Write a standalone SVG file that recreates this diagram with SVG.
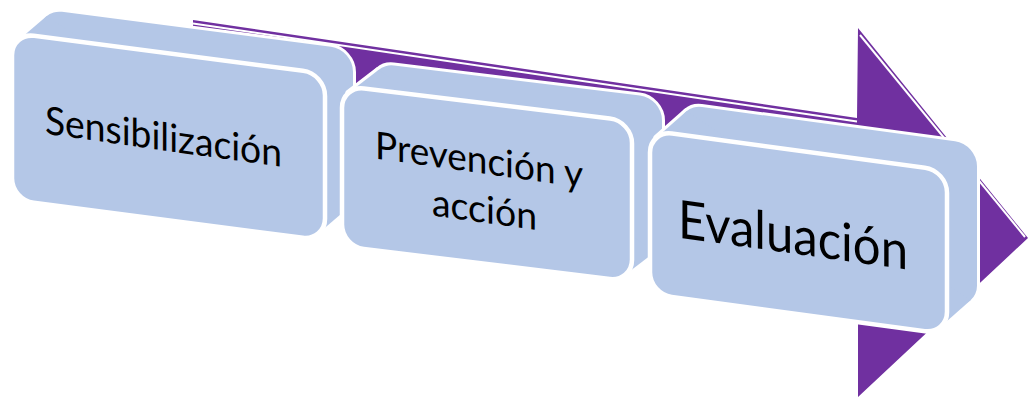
<svg xmlns="http://www.w3.org/2000/svg" width="1029" height="397" viewBox="0 0 1029 397">
<style>
.arrow { fill:#7030A0; }
.edge { stroke:#FFFFFF; stroke-width:2; fill:none; }
.ext { fill:#B4C7E7; stroke:#FFFFFF; stroke-width:6; stroke-linejoin:round; }
.extfill { fill:#B4C7E7; }
.front { fill:#B4C7E7; stroke:#FFFFFF; stroke-width:4.5; }
.lbl { font-family:Lato, 'Liberation Sans', sans-serif; fill:#000000; text-anchor:middle; }
</style>
<rect width="1029" height="397" fill="#FFFFFF"/>
<g id="connectors">
  <g id="arrow">
    <path class="arrow" d="M193,20 L857,118 L858,28 L1028,238 L858,397 L858,300 L193,150 Z"/>
    <path class="edge" d="M193,23.5 L857,121.5"/>
    <path class="edge" d="M860,35 L1025,237"/>
  </g>
</g>
<g id="node-sensibilizacion">
  <g transform="skewY(7.407)">
    <rect class="ext" x="40" y="3.76" width="313" height="167" rx="22"/>
    <polygon class="ext" points="18.44,37.84 46.44,10.2 346.56,164.32 318.56,191.96"/>
    <rect class="extfill" x="40" y="3.76" width="313" height="167" rx="22"/>
    <polygon class="extfill" points="18.44,37.84 46.44,10.2 346.56,164.32 318.56,191.96"/>
    <rect class="front" x="12" y="31.4" width="313" height="167" rx="22"/>
  </g>
  <text class="lbl" transform="skewY(7.97)" x="163.5" y="127.5" font-size="39" textLength="237" lengthAdjust="spacingAndGlyphs">Sensibilización</text>
</g>
<g id="node-prevencion">
  <g transform="skewY(6.956)">
    <rect class="ext" x="372" y="17.44" width="290" height="160.5" rx="22"/>
    <polygon class="ext" points="348.44,50.54 378.44,23.88 655.56,171.5 625.56,198.16"/>
    <rect class="extfill" x="372" y="17.44" width="290" height="160.5" rx="22"/>
    <polygon class="extfill" points="348.44,50.54 378.44,23.88 655.56,171.5 625.56,198.16"/>
    <rect class="front" x="342" y="44.1" width="290" height="160.5" rx="22"/>
  </g>
  <text class="lbl" transform="skewY(7.97)" font-size="38">
    <tspan x="484" y="106" textLength="208" lengthAdjust="spacingAndGlyphs">Prevención y</tspan>
    <tspan x="484.5" y="155" textLength="105" lengthAdjust="spacingAndGlyphs">acción</tspan>
  </text>
</g>
<g id="node-evaluacion">
  <g transform="skewY(7.688)">
    <rect class="ext" x="680" y="12.25" width="297" height="163.5" rx="22"/>
    <polygon class="ext" points="656.44,49.24 686.44,18.69 970.56,169.31 940.56,199.86"/>
    <rect class="extfill" x="680" y="12.25" width="297" height="163.5" rx="22"/>
    <polygon class="extfill" points="656.44,49.24 686.44,18.69 970.56,169.31 940.56,199.86"/>
    <rect class="front" x="650" y="42.8" width="297" height="163.5" rx="22"/>
  </g>
  <text class="lbl" transform="skewY(7.97)" x="793" y="142.5" font-size="53" textLength="230" lengthAdjust="spacingAndGlyphs">Evaluación</text>
</g>
</svg>
